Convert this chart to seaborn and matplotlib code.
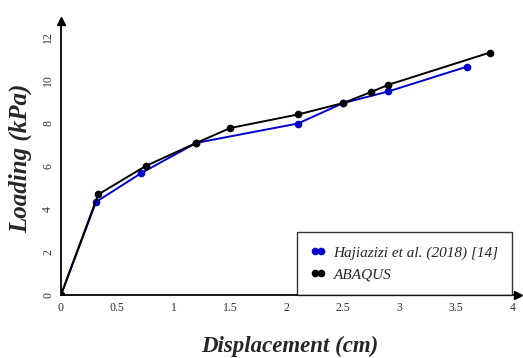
import numpy as np
import pandas as pd
import seaborn as sns
import matplotlib.pyplot as plt

# data
haj_x = [0, 0.31, 0.71, 1.2, 2.1, 2.5, 2.9, 3.6]
haj_y = [0, 4.33, 5.67, 7.08, 7.98, 8.93, 9.47, 10.63]
abq_x = [0, 0.33, 0.75, 1.2, 1.5, 2.1, 2.5, 2.75, 2.9, 3.8]
abq_y = [0, 4.68, 6.0, 7.08, 7.77, 8.4, 8.93, 9.45, 9.78, 11.28]
names = ["Hajiazizi et al. (2018) [14]", "ABAQUS"]

df = pd.concat([
    pd.DataFrame({"x": haj_x, "y": haj_y, "src": names[0]}),
    pd.DataFrame({"x": abq_x, "y": abq_y, "src": names[1]}),
])

sns.set_style("white")
plt.rcParams['font.family'] = ['Liberation Serif', 'DejaVu Serif']

fig = plt.figure(figsize=(5.23, 3.58), dpi=100)
ax = fig.add_axes([61/523, 1-295/358, (518-61)/523, (295-21)/358])

sns.lineplot(data=df, x="x", y="y", hue="src", sort=False, marker="o",
             palette=["#0000cc", "black"], markersize=5.5, markeredgewidth=0,
             linewidth=1.4, ax=ax, zorder=3)
ax.set_xlim(0, 4.05)
ax.set_ylim(0, 12.75)
ax.set_xticks([0, 0.5, 1, 1.5, 2, 2.5, 3, 3.5, 4])
ax.set_xticklabels(["0", "0.5", "1", "1.5", "2", "2.5", "3", "3.5", "4"])
ax.set_yticks([0, 2, 4, 6, 8, 10, 12])
ax.tick_params(direction="in", length=3, width=1, labelsize=8.5, pad=5,
               labelcolor="#333333")
for lab in ax.get_yticklabels():
    lab.set_rotation(90)
    lab.set_va("center")

for s in ["top", "right"]:
    ax.spines[s].set_visible(False)
for s in ["left", "bottom"]:
    ax.spines[s].set_linewidth(1.3)
    ax.spines[s].set_color("black")

ax.plot(1, 0, ">k", transform=ax.get_yaxis_transform(), clip_on=False, markersize=6)
ax.plot(0, 1, "^k", transform=ax.get_xaxis_transform(), clip_on=False, markersize=6)

ax.set_xlabel("Displacement (cm)", fontsize=16.5, fontweight="bold", fontstyle="italic", labelpad=16)
ax.set_ylabel("Loading (kPa)", fontsize=18, fontweight="bold", fontstyle="italic", labelpad=7)

leg = ax.legend(loc="lower right", bbox_to_anchor=(4.0, 0), bbox_transform=ax.transData,
                frameon=True, fancybox=False, numpoints=2, handlelength=1.0,
                borderaxespad=0, prop={"style": "italic", "size": 11},
                borderpad=0.9, labelspacing=0.5, handletextpad=0.5)
leg.get_frame().set_edgecolor("black")
leg.get_frame().set_linewidth(1)

fig.savefig("out.png", dpi=100)
